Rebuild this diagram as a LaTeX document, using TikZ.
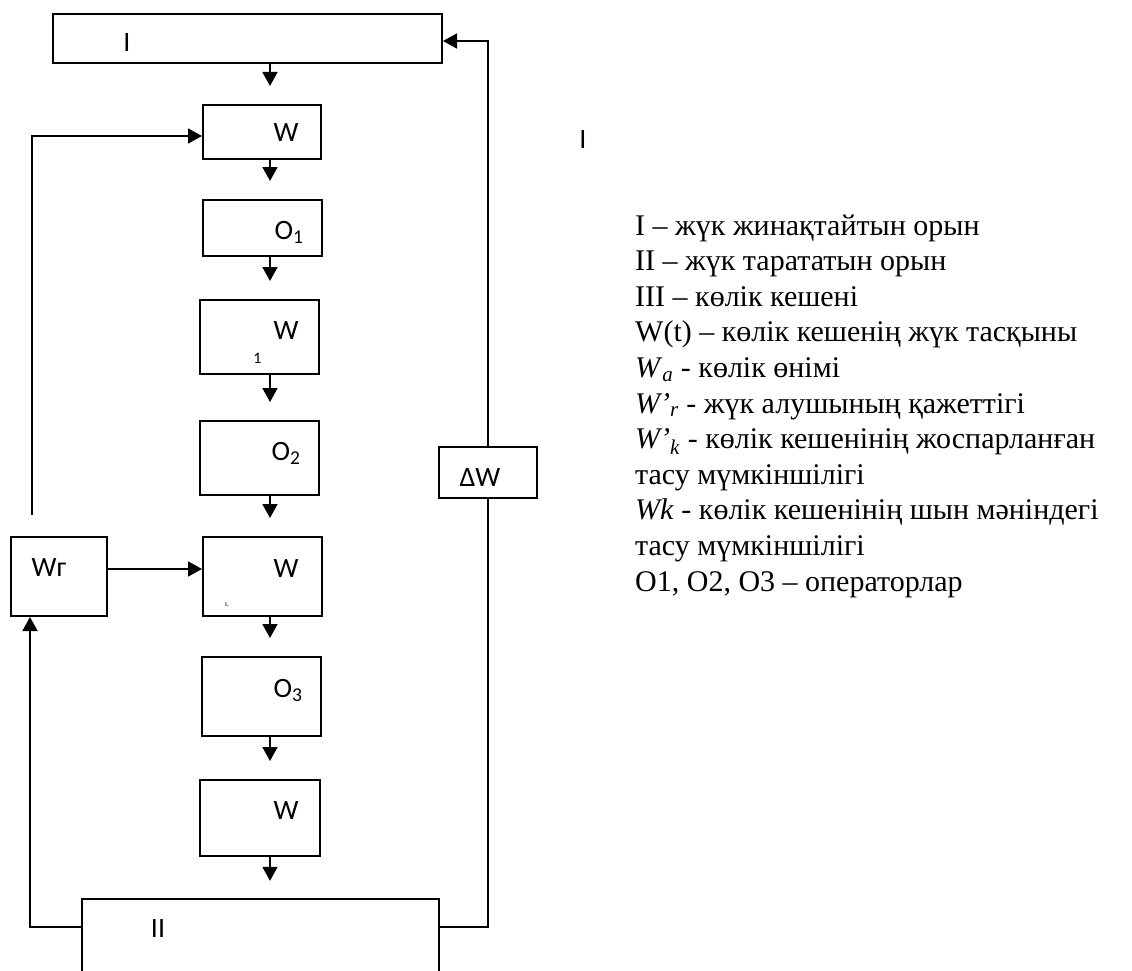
\documentclass[tikz,border=0pt]{standalone}
\usepackage{fontspec}
\setmainfont{Liberation Serif}
\newfontfamily\boxfont{Carlito}
\usetikzlibrary{arrows.meta,calc}
\tikzset{
  blk/.style  = {draw, line width=2pt, inner sep=0pt},
  side/.style = {line width=2pt},
  lab/.style  = {font=\boxfont\fontsize{28}{32}\selectfont, anchor=base, inner sep=0pt},
  flow/.style = {line width=1.7pt, -{Triangle[length=14pt,width=15pt]}},
  link/.style = {line width=1.7pt},
  leg/.style  = {font=\fontsize{30}{36}\selectfont, anchor=base west, inner sep=0pt},
}

\begin{document}
\begin{tikzpicture}[x=1pt, y=-1pt]
\useasboundingbox (0,0) rectangle (1132,971);
% blocks
\node[blk, minimum width=389pt, minimum height=49pt] (I)  at (247.5,38.5) {};
\node[blk, minimum width=118pt, minimum height=54pt] (wa) at (262,132)    {};
\node[blk, minimum width=119pt, minimum height=56pt] (o1) at (262.5,228)  {};
\node[blk, minimum width=119pt, minimum height=74pt] (wb) at (259.5,337)  {};
\node[blk, minimum width=119pt, minimum height=74pt] (o2) at (259.5,458)  {};
\node[blk, minimum width=119pt, minimum height=79pt] (wc) at (262.5,576.5) {};
\node[blk, minimum width=119pt, minimum height=79pt] (o3) at (261.5,696.5) {};
\node[blk, minimum width=120pt, minimum height=76pt] (wd) at (260,818)    {};
\node[blk, minimum width=96pt,  minimum height=79pt] (wg) at (59,576.5)   {};
\node[blk, minimum width=98pt,  minimum height=51pt] (dw) at (488,472.5)  {};
\node[inner sep=0pt, minimum width=357pt, minimum height=56pt] (II) at (260.5,927) {};
\draw[side] ($(II.south west)+(0,40)$) -- (II.north west) -- (II.north east) -- ($(II.south east)+(0,40)$);

% labels
\node[lab] (lI)   at (127,52)  {I};
\node[lab] (lwa)  at (286,142) {W};
\node[lab] (lo1)  at (289,239) {O\textsubscript{1}};
\node[lab] (lwb)  at (286,339) {W};
\node[lab, font=\boxfont\fontsize{16}{16}\selectfont] (lwb1) at (257.5,363) {1};
\node[lab] (lo2)  at (286,460) {O\textsubscript{2}};
\node[lab] (lwc)  at (286,577) {W};
\node[lab, font=\boxfont\fontsize{8}{8}\selectfont] (lwcm) at (227,606) {ı.};
\node[lab] (lo3)  at (288,697) {O\textsubscript{3}};
\node[lab] (lwd)  at (286,819) {W};
\node[lab] (lwg)  at (49,576)  {Wг};
\node[lab] (ldw)  at (480,486) {ΔW};
\node[lab] (lII)  at (158,937) {II};
\node[lab] (lIII) at (583,148) {I};

% main column
\coordinate (col) at (270,0);
\foreach \a/\b in {I/wa, wa/o1, o1/wb, wb/o2, o2/wc, wc/o3, o3/wd, wd/II}
  \draw[flow, shorten >=18pt] (\a.south -| col) -- (\b.north -| col);

% feedback
\coordinate (lt) at (32,515);
\coordinate (lx) at (30,0);
\draw[flow] (lt) |- ([yshift=-4pt]wa.west);
\draw[flow] ([yshift=7.5pt]wg.east) -- ([yshift=7.5pt]wc.west);
\draw[flow] (II.west) -| (wg.south -| lx);
\draw[link] (II.east) -| (dw.south);
\draw[flow] (dw.north) |- ([yshift=-2.5pt]I.east);

% legend
\foreach \txt [count=\i from 0] in {
  {I – жүк жинақтайтын орын},
  {II – жүк тарататын орын},
  {III – көлік кешені},
  {W(t) – көлік кешенің жүк тасқыны},
  {\textit{W}\textsubscript{\textit{a}} - көлік өнімі},
  {\textit{W’}\textsubscript{\textit{r}} - жүк алушының қажеттігі},
  {\textit{W’}\textsubscript{\textit{k}} - көлік кешенінің жоспарланған},
  {тасу мүмкіншілігі},
  {\textit{Wk} - көлік кешенінің шын мәніндегі},
  {тасу мүмкіншілігі},
  {O1, O2, O3 – операторлар}}
  \node[leg] (leg\i) at (635,{235+35.6*\i}) {\txt};
\end{tikzpicture}
\end{document}
